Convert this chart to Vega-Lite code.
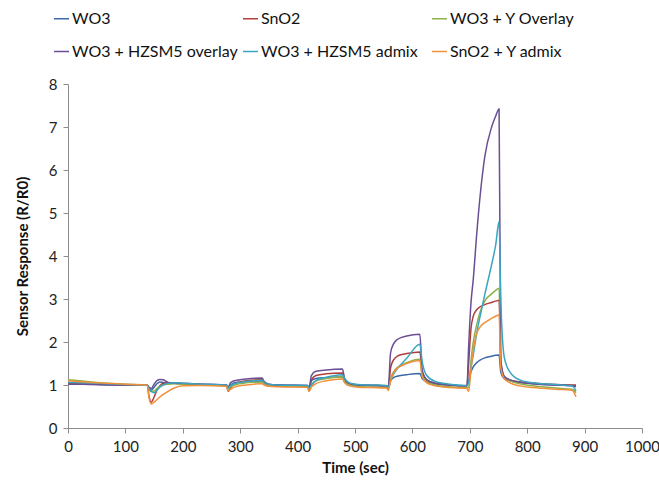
{
  "$schema": "https://vega.github.io/schema/vega-lite/v6.json",
  "width": 574,
  "height": 344,
  "autosize": {"type": "none"},
  "padding": {"left": 68, "top": 84, "right": 17, "bottom": 59},
  "background": "white",
  "config": {
    "view": {"stroke": null},
    "font": "Lato",
    "axis": {
      "grid": false,
      "domainColor": "#8c8c8c",
      "tickColor": "#8c8c8c",
      "tickSize": 5,
      "labelFont": "Lato",
      "labelFontSize": 15,
      "labelColor": "#222222",
      "titleFont": "Lato",
      "titleFontSize": 15,
      "titleFontWeight": "bold",
      "titleColor": "#111111"
    }
  },
  "data": {
    "values": [
      {"t":0,"WO3":1.02,"SnO2":1.03,"WO3 + Y Overlay":1.12,"WO3 + HZSM5 overlay":1.02,"WO3 + HZSM5 admix":1.06,"SnO2 + Y admix":1.1},
      {"t":50,"WO3":1.01,"SnO2":1.02,"WO3 + Y Overlay":1.06,"WO3 + HZSM5 overlay":1.01,"WO3 + HZSM5 admix":1.04,"SnO2 + Y admix":1.05},
      {"t":100,"WO3":1.0,"SnO2":1.0,"WO3 + Y Overlay":1.02,"WO3 + HZSM5 overlay":1.0,"WO3 + HZSM5 admix":1.01,"SnO2 + Y admix":1.02},
      {"t":138,"WO3":1.0,"SnO2":1.0,"WO3 + Y Overlay":1.0,"WO3 + HZSM5 overlay":1.0,"WO3 + HZSM5 admix":1.0,"SnO2 + Y admix":1.0},
      {"t":141,"WO3":0.92,"SnO2":0.75,"WO3 + Y Overlay":0.9,"WO3 + HZSM5 overlay":0.95,"WO3 + HZSM5 admix":0.92,"SnO2 + Y admix":0.72},
      {"t":145,"WO3":0.88,"SnO2":0.6,"WO3 + Y Overlay":0.85,"WO3 + HZSM5 overlay":0.92,"WO3 + HZSM5 admix":0.85,"SnO2 + Y admix":0.56},
      {"t":150,"WO3":0.95,"SnO2":0.72,"WO3 + Y Overlay":0.86,"WO3 + HZSM5 overlay":1.02,"WO3 + HZSM5 admix":0.82,"SnO2 + Y admix":0.6},
      {"t":155,"WO3":1.03,"SnO2":0.88,"WO3 + Y Overlay":0.92,"WO3 + HZSM5 overlay":1.1,"WO3 + HZSM5 admix":0.88,"SnO2 + Y admix":0.66},
      {"t":160,"WO3":1.07,"SnO2":0.98,"WO3 + Y Overlay":0.97,"WO3 + HZSM5 overlay":1.13,"WO3 + HZSM5 admix":0.95,"SnO2 + Y admix":0.72},
      {"t":166,"WO3":1.06,"SnO2":1.04,"WO3 + Y Overlay":1.0,"WO3 + HZSM5 overlay":1.12,"WO3 + HZSM5 admix":1.0,"SnO2 + Y admix":0.78},
      {"t":175,"WO3":1.05,"SnO2":1.05,"WO3 + Y Overlay":1.02,"WO3 + HZSM5 overlay":1.06,"WO3 + HZSM5 admix":1.04,"SnO2 + Y admix":0.86},
      {"t":185,"WO3":1.04,"SnO2":1.04,"WO3 + Y Overlay":1.03,"WO3 + HZSM5 overlay":1.05,"WO3 + HZSM5 admix":1.05,"SnO2 + Y admix":0.93},
      {"t":200,"WO3":1.03,"SnO2":1.03,"WO3 + Y Overlay":1.02,"WO3 + HZSM5 overlay":1.04,"WO3 + HZSM5 admix":1.04,"SnO2 + Y admix":0.98},
      {"t":230,"WO3":1.02,"SnO2":1.01,"WO3 + Y Overlay":1.0,"WO3 + HZSM5 overlay":1.02,"WO3 + HZSM5 admix":1.02,"SnO2 + Y admix":0.99},
      {"t":276,"WO3":1.0,"SnO2":0.99,"WO3 + Y Overlay":0.98,"WO3 + HZSM5 overlay":1.0,"WO3 + HZSM5 admix":1.0,"SnO2 + Y admix":0.97},
      {"t":279,"WO3":0.95,"SnO2":0.85,"WO3 + Y Overlay":0.9,"WO3 + HZSM5 overlay":0.95,"WO3 + HZSM5 admix":0.93,"SnO2 + Y admix":0.87},
      {"t":283,"WO3":1.0,"SnO2":0.93,"WO3 + Y Overlay":0.95,"WO3 + HZSM5 overlay":1.05,"WO3 + HZSM5 admix":0.98,"SnO2 + Y admix":0.9},
      {"t":290,"WO3":1.05,"SnO2":1.03,"WO3 + Y Overlay":1.0,"WO3 + HZSM5 overlay":1.1,"WO3 + HZSM5 admix":1.03,"SnO2 + Y admix":0.95},
      {"t":310,"WO3":1.07,"SnO2":1.1,"WO3 + Y Overlay":1.05,"WO3 + HZSM5 overlay":1.14,"WO3 + HZSM5 admix":1.08,"SnO2 + Y admix":1.0},
      {"t":338,"WO3":1.08,"SnO2":1.12,"WO3 + Y Overlay":1.07,"WO3 + HZSM5 overlay":1.16,"WO3 + HZSM5 admix":1.11,"SnO2 + Y admix":1.03},
      {"t":342,"WO3":1.04,"SnO2":1.05,"WO3 + Y Overlay":1.02,"WO3 + HZSM5 overlay":1.08,"WO3 + HZSM5 admix":1.06,"SnO2 + Y admix":1.0},
      {"t":350,"WO3":1.01,"SnO2":1.0,"WO3 + Y Overlay":0.98,"WO3 + HZSM5 overlay":1.02,"WO3 + HZSM5 admix":1.01,"SnO2 + Y admix":0.97},
      {"t":365,"WO3":1.0,"SnO2":0.99,"WO3 + Y Overlay":0.97,"WO3 + HZSM5 overlay":1.0,"WO3 + HZSM5 admix":1.0,"SnO2 + Y admix":0.96},
      {"t":417,"WO3":0.99,"SnO2":0.98,"WO3 + Y Overlay":0.96,"WO3 + HZSM5 overlay":0.99,"WO3 + HZSM5 admix":0.99,"SnO2 + Y admix":0.95},
      {"t":420,"WO3":0.92,"SnO2":0.86,"WO3 + Y Overlay":0.9,"WO3 + HZSM5 overlay":0.93,"WO3 + HZSM5 admix":0.92,"SnO2 + Y admix":0.85},
      {"t":424,"WO3":1.1,"SnO2":1.12,"WO3 + Y Overlay":1.0,"WO3 + HZSM5 overlay":1.22,"WO3 + HZSM5 admix":1.0,"SnO2 + Y admix":0.95},
      {"t":432,"WO3":1.15,"SnO2":1.22,"WO3 + Y Overlay":1.1,"WO3 + HZSM5 overlay":1.32,"WO3 + HZSM5 admix":1.1,"SnO2 + Y admix":1.03},
      {"t":450,"WO3":1.17,"SnO2":1.26,"WO3 + Y Overlay":1.15,"WO3 + HZSM5 overlay":1.35,"WO3 + HZSM5 admix":1.18,"SnO2 + Y admix":1.1},
      {"t":478,"WO3":1.19,"SnO2":1.28,"WO3 + Y Overlay":1.19,"WO3 + HZSM5 overlay":1.37,"WO3 + HZSM5 admix":1.24,"SnO2 + Y admix":1.14},
      {"t":482,"WO3":1.1,"SnO2":1.12,"WO3 + Y Overlay":1.08,"WO3 + HZSM5 overlay":1.15,"WO3 + HZSM5 admix":1.15,"SnO2 + Y admix":1.05},
      {"t":490,"WO3":1.03,"SnO2":1.03,"WO3 + Y Overlay":1.0,"WO3 + HZSM5 overlay":1.04,"WO3 + HZSM5 admix":1.05,"SnO2 + Y admix":0.98},
      {"t":505,"WO3":1.0,"SnO2":1.0,"WO3 + Y Overlay":0.97,"WO3 + HZSM5 overlay":1.0,"WO3 + HZSM5 admix":1.01,"SnO2 + Y admix":0.95},
      {"t":530,"WO3":0.99,"SnO2":0.99,"WO3 + Y Overlay":0.95,"WO3 + HZSM5 overlay":0.99,"WO3 + HZSM5 admix":1.0,"SnO2 + Y admix":0.94},
      {"t":555,"WO3":0.98,"SnO2":0.98,"WO3 + Y Overlay":0.94,"WO3 + HZSM5 overlay":0.98,"WO3 + HZSM5 admix":0.99,"SnO2 + Y admix":0.93},
      {"t":558,"WO3":0.95,"SnO2":0.9,"WO3 + Y Overlay":0.9,"WO3 + HZSM5 overlay":0.95,"WO3 + HZSM5 admix":0.93,"SnO2 + Y admix":0.87},
      {"t":562,"WO3":1.1,"SnO2":1.4,"WO3 + Y Overlay":1.15,"WO3 + HZSM5 overlay":1.75,"WO3 + HZSM5 admix":1.1,"SnO2 + Y admix":1.1},
      {"t":567,"WO3":1.17,"SnO2":1.58,"WO3 + Y Overlay":1.3,"WO3 + HZSM5 overlay":1.95,"WO3 + HZSM5 admix":1.25,"SnO2 + Y admix":1.28},
      {"t":575,"WO3":1.21,"SnO2":1.68,"WO3 + Y Overlay":1.42,"WO3 + HZSM5 overlay":2.07,"WO3 + HZSM5 admix":1.4,"SnO2 + Y admix":1.4},
      {"t":590,"WO3":1.24,"SnO2":1.73,"WO3 + Y Overlay":1.52,"WO3 + HZSM5 overlay":2.14,"WO3 + HZSM5 admix":1.62,"SnO2 + Y admix":1.5},
      {"t":613,"WO3":1.27,"SnO2":1.77,"WO3 + Y Overlay":1.6,"WO3 + HZSM5 overlay":2.18,"WO3 + HZSM5 admix":1.95,"SnO2 + Y admix":1.57},
      {"t":617,"WO3":1.15,"SnO2":1.3,"WO3 + Y Overlay":1.25,"WO3 + HZSM5 overlay":1.35,"WO3 + HZSM5 admix":1.55,"SnO2 + Y admix":1.2},
      {"t":625,"WO3":1.08,"SnO2":1.12,"WO3 + Y Overlay":1.08,"WO3 + HZSM5 overlay":1.12,"WO3 + HZSM5 admix":1.22,"SnO2 + Y admix":1.05},
      {"t":640,"WO3":1.03,"SnO2":1.04,"WO3 + Y Overlay":1.0,"WO3 + HZSM5 overlay":1.04,"WO3 + HZSM5 admix":1.08,"SnO2 + Y admix":0.98},
      {"t":665,"WO3":1.0,"SnO2":1.0,"WO3 + Y Overlay":0.96,"WO3 + HZSM5 overlay":1.0,"WO3 + HZSM5 admix":1.02,"SnO2 + Y admix":0.94},
      {"t":695,"WO3":0.98,"SnO2":0.98,"WO3 + Y Overlay":0.94,"WO3 + HZSM5 overlay":0.98,"WO3 + HZSM5 admix":0.99,"SnO2 + Y admix":0.92},
      {"t":698,"WO3":1.1,"SnO2":1.5,"WO3 + Y Overlay":0.95,"WO3 + HZSM5 overlay":1.9,"WO3 + HZSM5 admix":1.05,"SnO2 + Y admix":0.85},
      {"t":702,"WO3":1.3,"SnO2":2.3,"WO3 + Y Overlay":1.55,"WO3 + HZSM5 overlay":2.9,"WO3 + HZSM5 admix":1.4,"SnO2 + Y admix":1.35},
      {"t":706,"WO3":1.42,"SnO2":2.6,"WO3 + Y Overlay":2.0,"WO3 + HZSM5 overlay":3.45,"WO3 + HZSM5 admix":1.7,"SnO2 + Y admix":1.8},
      {"t":712,"WO3":1.52,"SnO2":2.75,"WO3 + Y Overlay":2.4,"WO3 + HZSM5 overlay":4.5,"WO3 + HZSM5 admix":2.2,"SnO2 + Y admix":2.2},
      {"t":718,"WO3":1.58,"SnO2":2.82,"WO3 + Y Overlay":2.7,"WO3 + HZSM5 overlay":5.4,"WO3 + HZSM5 admix":2.6,"SnO2 + Y admix":2.35},
      {"t":726,"WO3":1.63,"SnO2":2.87,"WO3 + Y Overlay":2.95,"WO3 + HZSM5 overlay":6.3,"WO3 + HZSM5 admix":3.1,"SnO2 + Y admix":2.45},
      {"t":738,"WO3":1.67,"SnO2":2.92,"WO3 + Y Overlay":3.12,"WO3 + HZSM5 overlay":7.0,"WO3 + HZSM5 admix":3.8,"SnO2 + Y admix":2.55},
      {"t":745,"WO3":1.69,"SnO2":2.95,"WO3 + Y Overlay":3.2,"WO3 + HZSM5 overlay":7.25,"WO3 + HZSM5 admix":4.25,"SnO2 + Y admix":2.6},
      {"t":751,"WO3":1.7,"SnO2":2.97,"WO3 + Y Overlay":3.25,"WO3 + HZSM5 overlay":7.42,"WO3 + HZSM5 admix":4.8,"SnO2 + Y admix":2.63},
      {"t":754,"WO3":1.3,"SnO2":1.5,"WO3 + Y Overlay":1.5,"WO3 + HZSM5 overlay":1.6,"WO3 + HZSM5 admix":3.0,"SnO2 + Y admix":1.4},
      {"t":760,"WO3":1.15,"SnO2":1.2,"WO3 + Y Overlay":1.2,"WO3 + HZSM5 overlay":1.2,"WO3 + HZSM5 admix":1.65,"SnO2 + Y admix":1.15},
      {"t":770,"WO3":1.1,"SnO2":1.12,"WO3 + Y Overlay":1.1,"WO3 + HZSM5 overlay":1.12,"WO3 + HZSM5 admix":1.3,"SnO2 + Y admix":1.05},
      {"t":787,"WO3":1.06,"SnO2":1.07,"WO3 + Y Overlay":1.03,"WO3 + HZSM5 overlay":1.07,"WO3 + HZSM5 admix":1.12,"SnO2 + Y admix":0.98},
      {"t":810,"WO3":1.03,"SnO2":1.04,"WO3 + Y Overlay":0.98,"WO3 + HZSM5 overlay":1.03,"WO3 + HZSM5 admix":1.05,"SnO2 + Y admix":0.94},
      {"t":850,"WO3":1.0,"SnO2":1.01,"WO3 + Y Overlay":0.93,"WO3 + HZSM5 overlay":1.0,"WO3 + HZSM5 admix":1.01,"SnO2 + Y admix":0.9},
      {"t":878,"WO3":0.99,"SnO2":1.0,"WO3 + Y Overlay":0.9,"WO3 + HZSM5 overlay":0.98,"WO3 + HZSM5 admix":0.98,"SnO2 + Y admix":0.88},
      {"t":885,"WO3":0.98,"SnO2":1.0,"WO3 + Y Overlay":0.82,"WO3 + HZSM5 overlay":0.96,"WO3 + HZSM5 admix":0.86,"SnO2 + Y admix":0.73}
    ]
  },
  "transform": [
    {"fold": ["WO3", "SnO2", "WO3 + Y Overlay", "WO3 + HZSM5 overlay", "WO3 + HZSM5 admix", "SnO2 + Y admix"], "as": ["series", "value"]}
  ],
  "mark": {"type": "line", "strokeWidth": 1.5, "interpolate": "monotone"},
  "encoding": {
    "x": {
      "field": "t", "type": "quantitative", "title": "Time (sec)",
      "scale": {"domain": [0, 1000], "nice": false},
      "axis": {"values": [0,100,200,300,400,500,600,700,800,900,1000], "format": "d", "labelPadding": 6, "titlePadding": 6, "labelFlush": false}
    },
    "y": {
      "field": "value", "type": "quantitative", "title": "Sensor Response (R/R0)",
      "scale": {"domain": [0, 8], "nice": false},
      "axis": {"values": [0,1,2,3,4,5,6,7,8], "format": "d", "labelPadding": 6, "titlePadding": 18}
    },
    "color": {
      "field": "series", "type": "nominal",
      "scale": {
        "domain": ["WO3", "SnO2", "WO3 + Y Overlay", "WO3 + HZSM5 overlay", "WO3 + HZSM5 admix", "SnO2 + Y admix"],
        "range": ["#3d68a8", "#b03e3b", "#8fb04a", "#6a4f94", "#3aa5c0", "#f0903a"]
      },
      "legend": {
        "title": null,
        "orient": "none",
        "legendX": -15,
        "legendY": -74,
        "direction": "horizontal",
        "columns": 3,
        "gridAlign": "all",
        "columnPadding": 2,
        "rowPadding": 16,
        "symbolType": "stroke",
        "symbolSize": 225,
        "symbolStrokeWidth": 1.5,
        "labelFont": "Lato",
        "labelFontSize": 16,
        "labelColor": "#111111",
        "labelOffset": 2,
        "labelLimit": 300
      }
    }
  }
}
